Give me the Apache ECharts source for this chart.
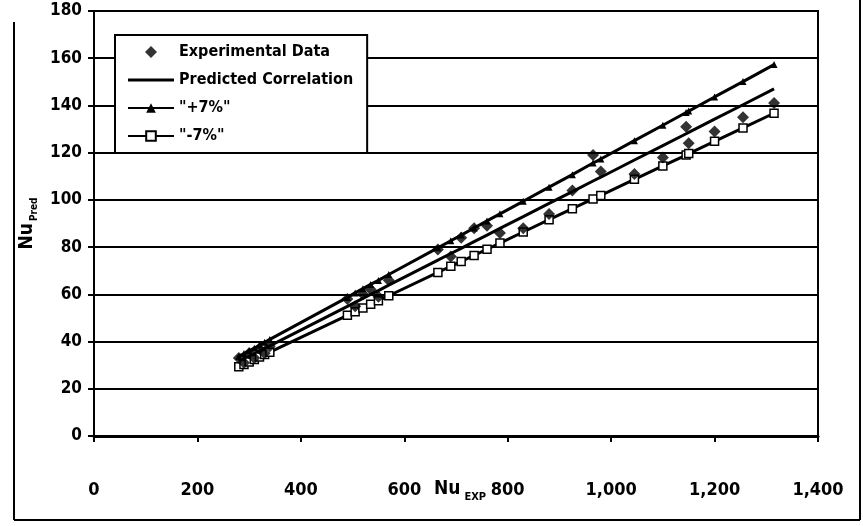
<!DOCTYPE html>
<html>
<head>
<meta charset="utf-8">
<script src="https://cdn.jsdelivr.net/npm/echarts@6/dist/echarts.min.js"></script>
<style>html,body{margin:0;padding:0;background:#fff}#c{width:863px;height:526px}</style>
</head>
<body>
<div id="c"></div>
<script>
const nuExp = [280, 290, 300, 310, 320, 330, 340, 490, 505, 520, 535, 550, 570, 665, 690, 710, 735, 760, 785, 830, 880, 925, 965, 980, 1045, 1100, 1145, 1150, 1200, 1255, 1315];
const experimental = [33, 31, 35, 33, 37, 35, 38, 58, 55, 60, 62, 59, 66, 79, 76, 84, 88, 89, 86, 88, 94, 104, 119, 112, 111, 118, 131, 124, 129, 135, 141];
const predicted = [31.5, 32.6, 33.7, 34.8, 36.0, 37.1, 38.2, 54.9, 56.6, 58.3, 60.0, 61.6, 63.9, 74.5, 77.3, 79.5, 82.3, 85.1, 87.9, 92.9, 98.5, 103.5, 108.0, 109.6, 116.9, 123.0, 128.0, 128.6, 134.2, 140.3, 147.0];
const plus7 = [33.7, 34.9, 36.1, 37.2, 38.5, 39.7, 40.9, 58.7, 60.6, 62.4, 64.2, 65.9, 68.4, 79.7, 82.7, 85.1, 88.1, 91.1, 94.1, 99.4, 105.4, 110.7, 115.6, 117.3, 125.1, 131.6, 137.0, 137.6, 143.6, 150.1, 157.3];
const minus7 = [29.3, 30.3, 31.3, 32.4, 33.5, 34.5, 35.5, 51.1, 52.6, 54.2, 55.8, 57.3, 59.4, 69.3, 71.9, 73.9, 76.5, 79.1, 81.7, 86.4, 91.6, 96.3, 100.4, 101.9, 108.7, 114.4, 119.0, 119.6, 124.8, 130.5, 136.7];
const xTicks = {min: 0, max: 1400, interval: 200};
const yTicks = {min: 0, max: 180, interval: 20};
const seriesNames = ['Experimental Data', 'Predicted Correlation', '"+7%"', '"-7%"'];

const pair = arr => nuExp.map((x, i) => [x, arr[i]]);
const FONT = "'Liberation Sans Narrow', 'DejaVu Sans Condensed', 'Liberation Sans', sans-serif";

const chart = echarts.init(document.getElementById('c'), null, {renderer: 'canvas'});
chart.setOption({
  backgroundColor: '#fff',
  animation: false,
  grid: {left: 94, right: 45, top: 11, bottom: 90, show: true, borderColor: '#000', borderWidth: 2, backgroundColor: 'transparent'},
  xAxis: {
    type: 'value', min: xTicks.min, max: xTicks.max, interval: xTicks.interval,
    name: '{a|Nu}{b|EXP}', nameLocation: 'middle', nameGap: 40, nameMoveOverlap: false,
    nameTextStyle: {rich: {
      a: {fontFamily: FONT, fontWeight: 'bold', fontSize: 19, color: '#000', padding: [0, 0, 0, 8]},
      b: {fontFamily: FONT, fontWeight: 'bold', fontSize: 11, color: '#000', padding: [16, 0, 0, 4]}
    }},
    axisLine: {show: true, lineStyle: {color: '#000', width: 3}},
    axisTick: {show: true, length: 6, lineStyle: {color: '#000', width: 2}},
    splitLine: {show: false},
    axisLabel: {color: '#000', fontFamily: FONT, fontWeight: 'bold', fontSize: 18, margin: 45,
      formatter: v => v.toLocaleString('en-US')}
  },
  yAxis: {
    type: 'value', min: yTicks.min, max: yTicks.max, interval: yTicks.interval,
    name: '{a|Nu}{b|Pred}', nameLocation: 'middle', nameGap: 52, nameRotate: 90,
    nameTextStyle: {rich: {
      a: {fontFamily: FONT, fontWeight: 'bold', fontSize: 19, color: '#000'},
      b: {fontFamily: FONT, fontWeight: 'bold', fontSize: 10, color: '#000', padding: [14, 0, 0, 2]}
    }},
    axisLine: {show: true, lineStyle: {color: '#000', width: 2}},
    axisTick: {show: true, length: 6, inside: false, lineStyle: {color: '#000', width: 2}},
    splitLine: {show: true, lineStyle: {color: '#000', width: 2}},
    axisLabel: {color: '#000', fontFamily: FONT, fontWeight: 'bold', fontSize: 17, margin: 12}
  },
  legend: {
    orient: 'vertical', left: 115, top: 35,
    backgroundColor: '#fff', borderColor: '#000', borderWidth: 2, borderRadius: 0,
    padding: [9, 14, 9, 12], itemGap: 12, itemWidth: 46, itemHeight: 12,
    symbolKeepAspect: true,
    textStyle: {color: '#000', fontFamily: FONT, fontWeight: 'bold', fontSize: 16},
    data: [
      {name: seriesNames[0], icon: 'path://M5,0 L10,5 L5,10 L0,5 Z'},
      {name: seriesNames[1], icon: 'path://M0,0 H46 V3 H0 Z'},
      {name: seriesNames[2]},
      {name: seriesNames[3]}
    ]
  },
  series: [
    {name: seriesNames[1], type: 'line', data: pair(predicted), showSymbol: false, symbol: 'none',
      lineStyle: {color: '#000', width: 3}, itemStyle: {color: '#000'}, z: 2},
    {name: seriesNames[2], type: 'line', data: pair(plus7), symbol: 'triangle', symbolSize: 7,
      lineStyle: {color: '#000', width: 3}, itemStyle: {color: '#000'}, z: 2},
    {name: seriesNames[3], type: 'line', data: pair(minus7), symbol: 'rect', symbolSize: 8,
      lineStyle: {color: '#000', width: 3}, itemStyle: {color: '#fff', borderColor: '#000', borderWidth: 1.5}, z: 2},
    {name: seriesNames[0], type: 'scatter', data: pair(experimental), symbol: 'diamond', symbolSize: 12,
      itemStyle: {color: '#000'}, z: 3}
  ],
  graphic: [
    {type: 'line', shape: {x1: 14, y1: 22, x2: 14, y2: 520}, style: {stroke: '#000', lineWidth: 2}},
    {type: 'line', shape: {x1: 14, y1: 520, x2: 860, y2: 520}, style: {stroke: '#000', lineWidth: 2}},
    {type: 'line', shape: {x1: 860, y1: 0, x2: 860, y2: 520}, style: {stroke: '#000', lineWidth: 2}}
  ]
});
</script>
</body>
</html>
